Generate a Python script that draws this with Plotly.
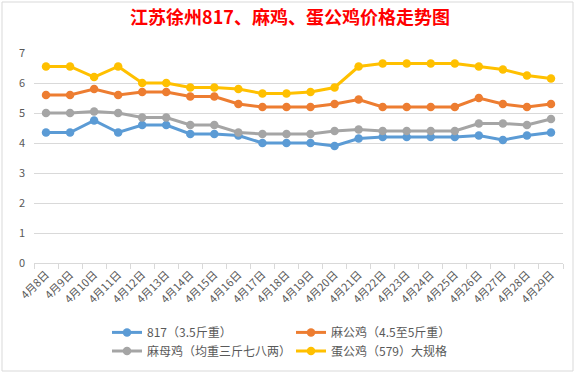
import plotly.graph_objects as go

dates = ["4月8日", "4月9日", "4月10日", "4月11日", "4月12日", "4月13日", "4月14日", "4月15日",
         "4月16日", "4月17日", "4月18日", "4月19日", "4月20日", "4月21日", "4月22日", "4月23日",
         "4月24日", "4月25日", "4月26日", "4月27日", "4月28日", "4月29日"]

s817 = [4.35, 4.35, 4.75, 4.35, 4.6, 4.6, 4.3, 4.3, 4.25, 4.0, 4.0, 4.0, 3.9, 4.15, 4.2, 4.2,
        4.2, 4.2, 4.25, 4.1, 4.25, 4.35]
magong = [5.6, 5.6, 5.8, 5.6, 5.7, 5.7, 5.55, 5.55, 5.3, 5.2, 5.2, 5.2, 5.3, 5.45, 5.2, 5.2,
          5.2, 5.2, 5.5, 5.3, 5.2, 5.3]
mamu = [5.0, 5.0, 5.05, 5.0, 4.85, 4.85, 4.6, 4.6, 4.35, 4.3, 4.3, 4.3, 4.4, 4.45, 4.4, 4.4,
        4.4, 4.4, 4.65, 4.65, 4.6, 4.8]
dangong = [6.55, 6.55, 6.2, 6.55, 6.0, 6.0, 5.85, 5.85, 5.8, 5.65, 5.65, 5.7, 5.85, 6.55, 6.65, 6.65,
           6.65, 6.65, 6.55, 6.45, 6.25, 6.15]

names = ["817（3.5斤重）", "麻公鸡（4.5至5斤重）", "麻母鸡（均重三斤七八两）", "蛋公鸡（579）大规格"]
colors = ["#5B9BD5", "#ED7D31", "#A5A5A5", "#FFC000"]
series = [s817, magong, mamu, dangong]
legend_rows = ["legend", "legend", "legend2", "legend2"]

FONT = "Noto Sans CJK SC, Microsoft YaHei, sans-serif"

fig = go.Figure()
for name, col, vals, lg in zip(names, colors, series, legend_rows):
    fig.add_trace(go.Scatter(
        x=dates, y=vals, name=name, mode="lines+markers",
        line=dict(color=col, width=3),
        marker=dict(color=col, size=8.5),
        legend=lg,
    ))

legend_common = dict(orientation="h", x=0.138, xanchor="left", yref="container",
                     yanchor="top", entrywidth=139, entrywidthmode="pixels",
                     font=dict(family=FONT, size=12, color="#595959"),
                     itemwidth=30, bgcolor="rgba(0,0,0,0)")

fig.update_layout(
    width=580, height=374,
    margin=dict(l=34, r=17, t=53, b=111, autoexpand=False),
    paper_bgcolor="white", plot_bgcolor="white",
    font=dict(family=FONT, size=11, color="#595959"),
    title=dict(text="<b>江苏徐州817、麻鸡、蛋公鸡价格走势图</b>", x=0.5, xanchor="center",
               y=0.952, yanchor="middle",
               font=dict(family=FONT, size=18, color="#FF0000")),
    showlegend=True,
    legend=dict(y=0.15, **legend_common),
    legend2=dict(y=0.10, **legend_common),
    xaxis=dict(type="category", tickangle=-45, showgrid=False, automargin=False,
               showline=True, linecolor="#D9D9D9", linewidth=1,
               ticks="outside", tickson="boundaries", ticklen=5, tickcolor="#D9D9D9",
               tickfont=dict(family=FONT, size=11, color="#595959"),
               range=[-0.5, len(dates) - 0.5]),
    yaxis=dict(range=[0, 7], dtick=1, showgrid=True, gridcolor="#D9D9D9", gridwidth=1,
               automargin=False, ticklabelstandoff=8,
               zeroline=False, showline=False, ticks="",
               tickfont=dict(family=FONT, size=11, color="#595959")),
)

fig.add_shape(type="rect", xref="paper", yref="paper",
              x0=(2 - 34) / 529, x1=(573 - 34) / 529,
              y0=(263 - 371) / 210, y1=(263 - 2) / 210,
              line=dict(color="#D9D9D9", width=1), fillcolor="rgba(0,0,0,0)", layer="below")

fig.write_html("out.html", config={"displayModeBar": False},
               post_script="document.body.style.margin='0';")
